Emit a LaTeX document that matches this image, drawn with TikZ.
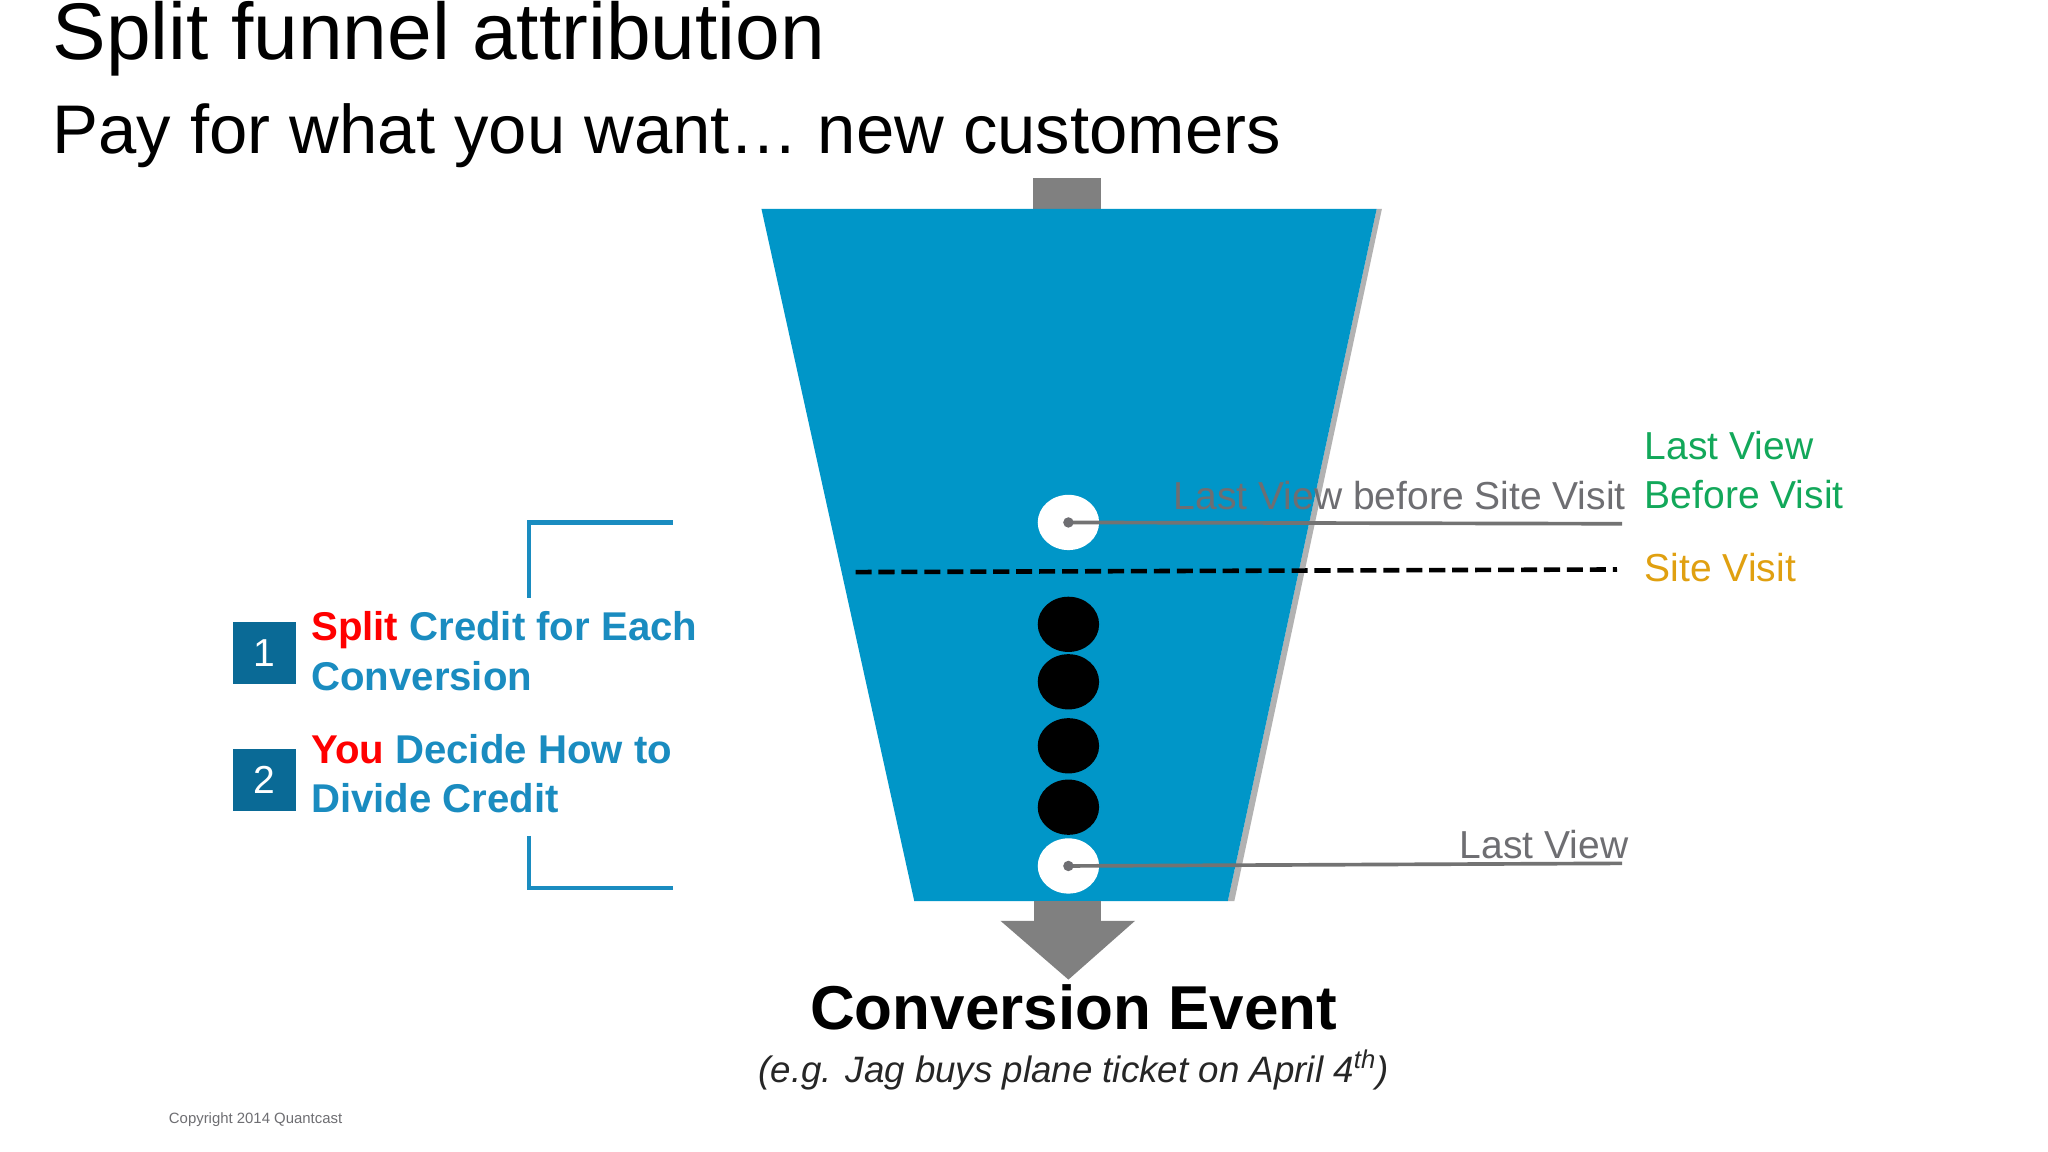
\documentclass[tikz,border=0pt]{standalone}
\usepackage{fontspec}
\setmainfont{Liberation Sans}
\begin{document}
\begin{tikzpicture}[x=0.02cm,y=-0.02cm,
  lbl/.style={inner sep=0pt,font=\fontsize{17}{20}\selectfont},
  dot/.style={ellipse,minimum width=47\pgflinewidth,inner sep=0pt},
  blk/.style={fill=black,draw=none,circle,minimum width=0.94cm,minimum height=0cm, yscale=0.9},
  wht/.style={fill=white,draw=none,circle,minimum width=0.94cm, yscale=0.9},
  conn/.style={draw=gray!110,line width=1.6pt},
  numbox/.style={fill=boxc,text=white,minimum size=0.95cm,inner sep=0pt,font=\fontsize{17}{20}\selectfont},
  item/.style={anchor=north west,align=left,inner sep=0pt,text=itemc,font=\bfseries\fontsize{17.5}{21.5}\selectfont}]
\definecolor{func}{HTML}{0096C8}
\definecolor{boxc}{HTML}{0A6A96}
\definecolor{itemc}{HTML}{1A8CC0}
\definecolor{grn}{HTML}{12A85A}
\definecolor{orn}{HTML}{E0A010}
\definecolor{gry}{HTML}{6E6E72}
\useasboundingbox (0,0) rectangle (1568,882);
\fill[white] (0,0) rectangle (1568,882);
% titles
\node[anchor=west,inner sep=0pt,font=\fontsize{35}{40}\selectfont] (t1) at (40,30) {Split funnel attribution};
\node[anchor=west,inner sep=0pt,font=\fontsize{30}{36}\selectfont] (t2) at (40,104) {Pay for what you want\ldots\ new customers};
% funnel
\fill[gray!60] (1058,160) -- (945,690) -- (940,690) -- (1054,160) -- cycle;
\fill[gray!100!white,fill=gray] (791,136) rectangle (843,160);
\fill[func] (583,160) -- (1054,160) -- (940,690) -- (700,690) -- cycle;
\fill[gray] (792,690) rectangle (843,705);
\fill[gray] (766,705) -- (869,705) -- (818,750) -- cycle;
% labels behind
\node[lbl,anchor=base east,text=gry] (lvb) at (1245,390) {Last View before Site Visit};
\node[lbl,anchor=base east,text=gry] (lv) at (1247,657) {Last View};
% circles
\node[wht] (w1) at (818,400) {};
\node[wht] (w2) at (818,663) {};
\node[blk] (b1) at (818,478) {};
\node[blk] (b2) at (818,522) {};
\node[blk] (b3) at (818,571) {};
\node[blk] (b4) at (818,618) {};
\coordinate (e1) at (1242,401);
\coordinate (e2) at (1242,661);
\draw[conn] (w1.center) -- (e1);
\draw[conn] (w2.center) -- (e2);
\fill[gry] (w1.center) circle (4);
\fill[gry] (w2.center) circle (4);
\coordinate (d1) at (655,438);
\coordinate (d2) at (1238,436);
\draw[dashed,line width=2pt,dash pattern=on 7pt off 3pt] (d1) -- (d2);
% right labels
\node[lbl,anchor=base west,text=grn,align=left] (g1) at (1259,352) {Last View};
\node[lbl,anchor=base west,text=grn] (g2) at (1259,389) {Before Visit};
\node[lbl,anchor=base west,text=orn] (sv) at (1259,445) {Site Visit};
% bracket
\draw[itemc,line width=2pt] (515,400) -- (405,400) -- (405,458);
\draw[itemc,line width=2pt] (405,640) -- (405,680) -- (515,680);
% items
\node[numbox] (n1) at (202.5,500) {1};
\node[numbox] (n2) at (202.5,597) {2};
\node[item] (i1) at (238,468) {\textcolor{red}{Split} Credit for Each\\Conversion};
\node[item] (i2) at (238,562) {\textcolor{red}{You} Decide How to\\Divide Credit};
% bottom
\node[inner sep=0pt,font=\bfseries\fontsize{27}{32}\selectfont] (ce) at (822,771) {Conversion Event};
\node[inner sep=0pt,font=\itshape\fontsize{16}{20}\selectfont,text=black!85] (eg) at (822,819) {(e.g. Jag buys plane ticket on April 4\textsuperscript{th})};
\node[anchor=west,inner sep=0pt,font=\fontsize{6.5}{8}\selectfont,text=gry] (cp) at (129,857) {Copyright 2014 Quantcast};
\end{tikzpicture}
\end{document}
